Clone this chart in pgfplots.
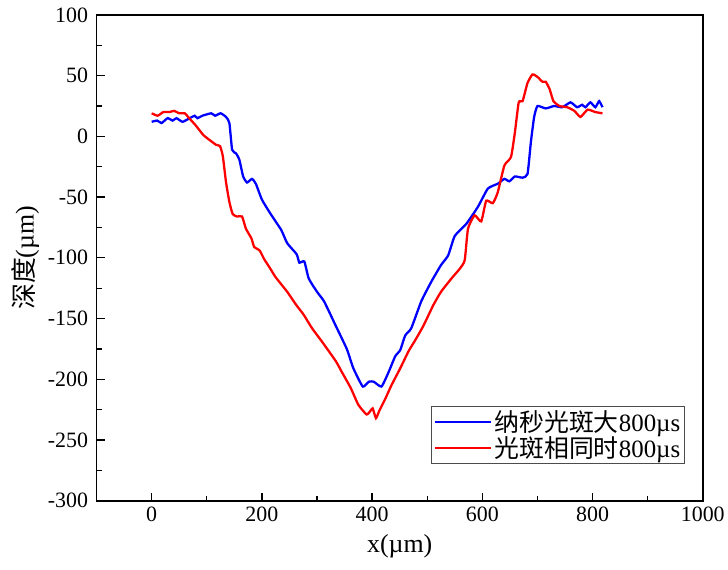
\documentclass[border=0pt]{standalone}
\usepackage{fontspec}
\setmainfont{Liberation Serif}
\newfontfamily\cjk{Noto Sans CJK SC}
\usepackage{pgfplots}
\pgfplotsset{compat=1.18}

\begin{document}
\begin{tikzpicture}
\begin{axis}[name=ax, scale only axis, width=609pt, height=488pt,
  xmin=-100, xmax=1000, ymin=-300, ymax=100,
  xtick={0,200,...,1000}, ytick={-300,-250,...,100},
  minor x tick num=1, minor y tick num=1,
  tick align=inside, xtick pos=left, ytick pos=left,
  major tick length=8pt, minor tick length=5pt,
  every tick/.style={black, line width=1.3pt},
  axis line style={line width=1.6pt},
  ticklabel style={font=\fontsize{22}{24}\selectfont},
  yticklabel style={xshift=-5pt},
  xticklabel style={yshift=-3pt},
  /pgf/number format/assume math mode=true,
  /pgf/number format/set thousands separator={},
  xlabel={x(µm)}, ylabel={{\cjk 深度}(µm)},
  label style={font=\fontsize{26}{28}\selectfont},
  xlabel style={yshift=-6pt},
  ylabel style={yshift=2pt},
  legend style={at={(0.970,0.076)}, anchor=south east, draw=black!70,
    line width=0.8pt, font=\fontsize{25}{28}\selectfont, inner sep=2pt,
    row sep=0pt},
  legend cell align=left,
  legend image code/.code={\draw[#1] (0cm,0cm) -- (2.0cm,0cm);},
]
\addplot[blue, line width=2.3pt, smooth, tension=0.3] coordinates {
(0,12)(10,13)(18,11)(29,15)(38,13)(45,15)(56,12)(69,15)(78,17)(83,15)
(92,17)(108,19)(115,17)(125,19)(135,16)(141,11)(146,-11)(153,-14)(159,-19)
(166,-33)(173,-38)(182,-35)(189,-39)(200,-52)(216,-64)(235,-77)(246,-88)
(263,-97)(268,-104)(277,-103)(285,-117)(300,-128)(313,-136)(333,-155)
(354,-175)(366,-191)(383,-206)(394,-202)(403,-202)(417,-206)(430,-194)
(442,-181)(451,-176)(460,-164)(471,-158)(489,-136)(507,-120)(525,-106)
(538,-98)(550,-82)(571,-72)(592,-58)(610,-43)(628,-39)(640,-35)(649,-37)
(659,-33)(673,-34)(682,-31)(688,-5)(694,16)(700,25)(715,23)(730,25)
(745,24)(760,28)(772,24)(781,26)(787,24)(796,28)(805,24)(812,29)(818,24)};
\addlegendentry{{\cjk 纳秒光斑大}800µs}
\addplot[red, line width=2.3pt, smooth, tension=0.3] coordinates {
(0,19)(11,17)(21,20)(32,20)(41,21)(50,19)(60,19)(68,15)(80,9)(94,1)
(108,-4)(117,-7)(124,-8)(129,-16)(135,-38)(141,-54)(147,-64)(155,-66)
(164,-66)(171,-76)(181,-84)(186,-91)(196,-94)(204,-101)(214,-108)
(225,-116)(246,-128)(261,-138)(276,-147)(291,-158)(309,-169)(334,-185)
(345,-194)(361,-207)(375,-221)(390,-229)(397,-226)(401,-224)(407,-232)
(413,-226)(424,-216)(435,-205)(451,-191)(466,-177)(478,-168)(493,-156)
(511,-139)(525,-128)(544,-117)(559,-109)(568,-102)(574,-76)(586,-65)
(598,-70)(607,-53)(619,-55)(628,-46)(640,-24)(652,-17)(659,3)(666,28)
(673,29)(682,44)(691,51)(700,49)(709,45)(715,45)(722,39)(729,29)(740,25)
(754,24)(767,21)(778,16)(791,22)(805,20)(818,19)};
\addlegendentry{{\cjk 光斑相同时}800µs}
\end{axis}
\path ([shift={(-97pt,-69pt)}]ax.south west) rectangle ([shift={(22pt,15pt)}]ax.north east);
\end{tikzpicture}
\end{document}
